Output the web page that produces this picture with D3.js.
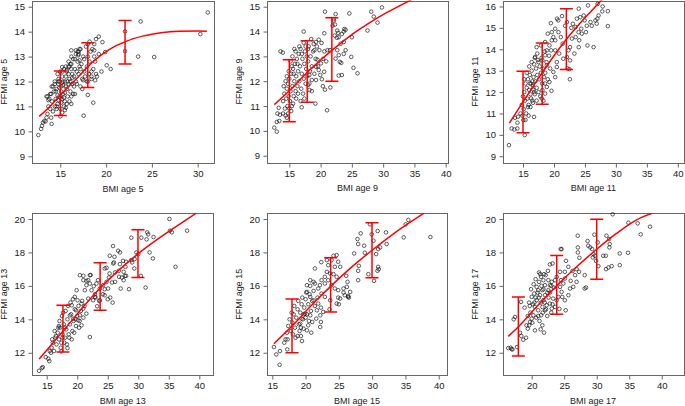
<!DOCTYPE html>
<html><head><meta charset="utf-8">
<script src="https://cdn.jsdelivr.net/npm/d3@7"></script>
<style>body{margin:0;background:#fff}svg{display:block;font-family:"Liberation Sans",Arial,Helvetica,sans-serif}</style>
</head><body><svg id="c" width="685" height="406"></svg>
<script>
// ---------------- DATA ----------------
const ages = [5, 9, 11, 13, 15, 17];
const xTickVals = [
  [15,20,25,30],
  [15,20,25,30,35,40],
  [15,20,25,30,35,40],
  [15,20,25,30,35,40],
  [15,20,25,30,35,40],
  [20,25,30,35,40]
];
const yTickVals = [
  [9,10,11,12,13,14,15],
  [9,10,11,12,13,14,15],
  [9,10,11,12,13,14,15,16],
  [12,14,16,18,20],
  [12,14,16,18,20],
  [12,14,16,18,20]
];

const pts5 = [[12.6,9.85],[12.9,10.1],[13.0,10.22],[13.1,10.35],[13.25,10.42],[13.4,10.4],[13.5,10.55],[14.05,10.3],[15.0,10.6],[15.2,10.75],[17.55,10.63],[18.6,11.15],[18.0,11.46],[19.0,12.2],[19.5,12.4],[20.5,12.5],[20.07,12.65],[19.9,13.18],[19.6,13.58],[19.2,13.8],[18.9,13.7],[18.7,13.5],[22.07,14.01],[22.07,13.22],[23.5,13.0],[23.77,14.41],[25.25,12.98],[30.29,13.9],[31.1,14.77],[16.2,13.25],[15.2,12.58],
[16.9,13.2],[17.2,13.3],[17.0,13.1],[18.7,13.25],[19.2,13.1],[18.0,13.5],[17.1,12.85],[17.5,12.05],[17.9,12.0],[18.4,12.2],[18.8,12.05],[16.2,11.4],[16.2,11.1],[15.5,10.85],[14.6,11.0],[13.7,11.25],[13.5,11.4],[13.9,11.5],[14.06,11.8],[14.4,11.9],[14.8,12.0],[15.25,12.4],[15.7,12.45],[15.9,12.6],[16.2,12.7],[16.6,12.9],[16.95,13.05],[16.7,13.25],
[13.6,10.7],[13.7,11.0],[13.8,11.3],[13.9,10.9],[14.0,11.5],[14.1,11.2],[14.2,10.8],[14.3,11.6],[14.4,11.0],[14.5,11.3],[13.6,11.4],[14.2,11.8],[14.4,12.0],[14.0,10.55],
[14.6,11.7],[14.7,11.1],[14.8,12.1],[14.9,11.4],[15.0,10.9],[15.1,11.8],[15.2,12.2],[15.3,11.5],[15.4,11.0],[15.5,12.0],[14.6,10.9],[14.8,11.9],[15.0,12.4],[15.2,11.3],[15.4,12.5],[14.7,12.3],[15.1,11.6],[15.3,12.0],[14.9,12.0],[15.5,11.2],
[15.6,11.8],[15.7,12.4],[15.8,11.4],[15.9,12.8],[16.0,12.1],[16.1,11.6],[16.2,12.5],[16.3,11.9],[16.4,12.9],[16.5,12.2],[15.6,12.6],[15.8,12.0],[16.0,11.2],[16.2,13.0],[16.4,11.5],[15.7,11.1],[15.9,12.3],[16.1,12.7],[16.3,12.3],[16.5,11.8],[15.6,12.2],[16.0,12.6],
[16.6,12.5],[16.7,13.1],[16.8,11.9],[16.9,12.8],[17.0,12.3],[17.1,13.3],[17.2,11.8],[17.3,12.7],[17.4,12.1],[17.5,13.0],[16.6,11.5],[16.8,12.4],[17.0,13.2],[17.2,12.5],[17.4,11.7],[16.7,12.0],[17.1,12.6],
[17.6,12.9],[17.7,12.2],[17.8,13.4],[17.9,12.6],[18.0,13.0],[18.1,12.3],[18.2,12.8],[18.3,13.2],[18.4,12.4],[18.5,13.3],[17.6,12.4],[18.0,12.0],[18.2,13.6],[18.4,12.1],
[18.6,12.5],[18.7,13.0],[18.8,12.8],[18.9,12.3],
[14.5,11.6],[14.7,11.45],[14.9,11.75],[15.1,11.15],[15.3,11.85],[15.5,11.55],[15.7,11.7],[15.9,11.9],[16.1,12.0],[16.3,12.15],[15.4,11.35],[15.6,10.95],[14.8,11.25],[15.2,11.95],[15.0,11.35]];

const pts9 = [[12.6,10.13],[13.0,9.97],[13.0,10.36],[13.4,10.4],[13.3,10.93],[13.1,10.7],[13.5,10.65],[14.0,10.7],[14.6,10.53],[14.4,10.62],[13.6,13.2],[13.96,13.15],[16.98,10.95],[19.17,11.1],[21.04,10.83],[20.7,11.66],[21.56,11.75],[20.36,11.8],[17.3,14.0],[20.7,14.8],[24.6,14.73],[22.3,14.28],[22.1,14.44],[27.5,14.04],[28.1,14.8],[28.5,14.6],[29.1,14.36],[29.8,14.97],[25.0,13.77],[24.9,12.98],[25.26,12.54],[25.9,12.32],[22.9,12.23],[23.4,12.25],[23.3,12.74],[24.0,13.25],[23.7,13.1],[24.0,14.07],[23.7,14.0],[22.6,13.75],[22.8,13.95],
[20.6,13.93],[19.7,13.67],[19.27,13.58],[20.15,13.54],[18.5,13.7],[18.9,13.5],[17.3,13.55],[17.6,13.4],[18.0,13.3],[19.0,13.25],[19.8,13.25],[20.6,13.2],[21.1,13.25],[21.5,13.25],[20.4,12.9],[20.9,12.8],[20.05,12.72],[19.5,12.87],[19.27,12.58],[19.7,12.45],[20.57,12.38],[19.95,12.25],[20.2,12.08],[19.27,12.05],[18.2,12.25],[18.6,12.05],[18.0,11.85],[18.23,11.65],[18.6,11.6],
[22.4,14.7],[22.1,14.5],[21.9,14.24],[22.66,14.04],[22.25,13.84],[22.9,13.77],[23.4,13.9],[23.7,13.58],[23.2,13.51],[22.66,13.25],[22.9,13.05],[22.4,12.91],[23.07,12.78],[23.8,14.1],
[14.0,11.2],[14.2,11.5],[14.3,10.9],[14.5,11.3],[14.6,11.7],[14.7,11.0],[14.8,11.9],[14.9,11.4],[15.0,12.1],[15.1,11.2],[15.2,11.6],[15.3,12.3],[15.4,11.0],[15.5,11.8],[15.6,12.5],[15.7,11.4],[15.8,12.0],[15.9,12.7],[16.0,11.6],[16.1,12.2],[16.2,12.9],[16.3,11.8],[16.4,12.4],[16.5,13.1],[16.6,12.0],[16.7,12.6],[16.8,13.3],[16.9,11.7],[17.0,12.3],[17.1,12.9],[17.2,11.5],[17.3,12.1],[17.4,12.7],[17.5,13.2],[17.6,11.9],[17.7,12.5],[17.8,13.0],[17.9,12.2],[18.0,12.8],[18.1,13.4],[18.3,12.4],[18.4,13.0],[18.6,12.6],[18.8,13.2],[19.0,12.3],[19.2,12.9],[19.4,13.4],[19.6,12.6],[14.4,12.0],[14.9,12.4],[15.2,12.8],[15.5,13.0],[15.8,13.3],[16.1,11.3],[16.4,11.5],[15.0,10.9],[15.3,10.8],[14.8,10.7],[15.6,11.1],[16.0,13.2],[16.6,13.4],[17.0,13.1],[16.3,12.7],[15.7,12.3],[15.4,12.6],[14.6,12.2],[14.1,11.8],[17.4,11.3],[18.2,11.9],[16.8,11.2]];

const pts11 = [[12.73,9.52],[13.16,10.3],[13.6,10.25],[14.08,10.3],[14.1,10.57],[13.7,10.8],[14.2,10.85],[15.27,9.99],[15.05,10.69],[16.78,10.84],[19.6,12.06],[22.57,12.6],[22.2,13.1],[22.5,13.07],[25.4,14.18],[26.4,14.1],[28.7,15.08],[28.7,15.78],[27.8,15.77],[27.86,16.0],[27.05,16.12],[25.5,16.05],[20.5,15.43],[21.3,15.55],[19.5,15.22],[24.0,15.9],
[22.8,15.0],[23.05,15.19],[22.1,15.27],[21.8,15.1],[23.7,15.43],[24.24,15.5],[24.8,15.58],[23.5,15.04],[24.95,15.35],[25.3,15.1],[25.9,15.27],[26.1,15.1],[26.7,15.35],[27.0,15.43],[27.2,15.58],[26.9,15.2],
[24.4,14.96],[23.97,14.8],[24.5,14.73],[25.16,14.8],[23.5,14.57],[22.9,14.5],[24.08,14.42],[22.6,14.1],[22.35,13.95],[24.0,14.1],[23.3,13.8],[22.1,13.64],[22.6,13.48],
[20.7,15.35],[20.2,14.96],[19.65,14.8],[19.9,14.57],[20.73,14.8],[21.1,14.57],[20.2,14.42],[21.4,14.26],[19.65,14.42],[19.27,14.18],[18.84,13.95],[19.54,13.95],[20.2,13.95],[20.84,13.8],[21.5,13.56],[20.46,13.4],[18.57,13.72],[18.13,13.48],[18.84,13.25],[19.38,13.1],[19.9,12.94],[20.46,13.17],[17.5,13.4],[16.95,13.64],[17.2,14.1],[17.9,14.18],[18.57,14.34],[19.0,14.73],[20.2,12.7],[19.27,12.47],[18.57,12.4],[18.84,12.24],[18.13,12.09],[18.03,11.7],[18.57,11.93],
[14.6,11.0],[14.8,11.4],[15.0,11.8],[15.1,11.2],[15.2,12.0],[15.3,11.6],[15.4,12.4],[15.5,11.0],[15.6,12.2],[15.7,11.7],[15.8,12.6],[15.9,11.4],[16.0,12.1],[16.1,12.8],[16.2,11.9],[16.3,12.4],[16.4,13.0],[16.5,11.6],[16.6,12.3],[16.7,12.7],[16.8,13.3],[16.9,11.9],[17.0,12.5],[17.1,13.1],[17.2,12.2],[17.3,12.8],[17.4,13.5],[17.5,12.0],[17.6,12.6],[17.7,13.2],[17.8,11.8],[17.9,12.9],[18.0,13.6],[18.1,12.4],[18.2,13.1],[18.3,11.6],[18.4,12.7],[18.5,13.9],[18.6,12.9],[18.8,13.4],[19.0,12.6],[19.2,13.7],[14.9,10.9],[15.4,10.7],[15.9,10.9],[16.2,11.3],[16.6,11.5],[15.2,12.6],[15.6,12.9],[16.0,13.2],[16.4,13.4],[16.9,13.6],[17.3,13.8],[15.8,11.3],[16.3,11.7],[16.8,12.0],[17.2,11.6],[16.5,12.5],[16.1,12.4],[16.7,12.1]];

const pts13 = [[13.75,10.92],[14.2,11.08],[14.35,11.14],[14.84,11.74],[15.27,11.64],[15.43,11.5],[15.7,12.0],[15.5,12.1],[17.39,12.08],[18.4,12.28],[22.07,12.94],[21.0,16.6],[21.5,16.3],[22.2,16.65],[25.33,17.8],[25.87,18.38],[26.7,18.1],[27.0,18.0],[28.48,15.8],[27.12,15.84],[28.86,18.88],[30.5,18.88],[31.47,19.2],[31.63,19.08],[31.36,18.78],[31.85,18.0],[32.4,17.64],[32.5,18.92],[31.2,15.9],[30.43,16.6],[35.1,20.0],[35.2,19.3],[35.5,19.2],[36.1,17.14],[38.0,19.3],[29.7,18.0],[30.0,17.9],[29.35,17.04],[29.4,17.6],[29.0,17.4],[27.5,17.5],[27.8,16.6],[28.0,16.6],[27.3,16.5],[25.2,16.5],[25.7,16.2],[26.2,16.8],[26.8,16.9],[27.0,17.3],[26.0,17.4],[23.0,15.3],[24.2,15.5],[25.0,15.2],[25.8,15.0],[25.4,15.3],[23.6,15.1],[24.5,15.8],
[24.5,17.04],[24.8,17.08],[25.3,16.74],[26.2,16.24],[26.85,16.54],[27.6,16.34],[27.6,16.84],[27.9,17.14],[28.0,17.44],[28.86,17.54],[25.9,17.34],[26.1,17.74],
[23.15,16.14],[23.4,16.34],[22.7,15.98],[22.34,15.74],[22.9,15.5],[23.7,15.84],[24.24,16.04],[24.8,16.24],[25.05,15.84],[24.5,15.44],[23.7,15.14],[23.26,14.78],[22.6,15.14],[22.9,15.34],
[21.8,15.24],[21.25,15.74],[21.5,16.04],[21.0,16.34],[20.43,16.64],[21.8,16.34],[22.07,16.14],[22.07,16.64],[19.9,15.74],[19.6,15.34],[20.05,15.14],[20.7,14.94],[21.0,14.64],[21.5,14.34],[20.43,14.24],[19.8,14.54],[19.1,14.84],[18.8,14.24],[19.35,14.04],[20.16,13.94],[20.7,13.64],
[15.8,12.3],[16.0,12.6],[16.2,12.1],[16.4,12.9],[16.6,12.5],[16.8,13.2],[17.0,12.8],[17.2,13.5],[17.4,12.6],[17.6,13.1],[17.8,13.7],[18.0,12.9],[18.2,13.4],[18.4,14.0],[18.6,13.1],[18.8,13.7],[19.0,14.3],[19.2,13.3],[19.4,13.9],[19.6,14.6],[19.8,13.6],[20.0,14.2],[20.2,14.8],[20.4,13.9],[20.6,14.5],[20.8,15.1],[21.0,14.1],[21.2,14.8],[16.5,13.0],[17.1,13.9],[17.5,14.2],[18.1,14.5],[18.5,14.8],[18.9,15.0],[19.3,15.2],[17.3,12.3],[17.9,12.6],[18.7,12.9],[19.5,13.2],[20.3,13.5],[16.9,13.5],[17.7,14.4],[18.3,12.5],[19.1,12.8],[15.9,12.8],[16.3,13.3],[17.0,13.6],[17.6,12.9],[18.0,13.5],[19.7,14.0]];

const pts15 = [[15.25,12.34],[15.6,11.9],[16.15,12.1],[16.1,11.28],[16.8,12.6],[17.3,12.8],[17.0,12.8],[17.25,12.2],[18.8,13.0],[19.3,13.5],[19.46,12.7],[20.86,13.2],[21.4,17.04],[22.36,17.42],[23.6,14.6],[24.67,17.84],[24.2,17.8],[25.0,14.9],[24.9,15.3],[26.1,16.6],[26.4,15.4],[26.5,15.3],[25.7,15.6],[27.3,17.94],[27.8,18.8],[28.28,19.14],[27.9,18.5],[28.8,18.4],[27.9,16.34],[27.9,16.9],[28.0,17.2],[28.9,17.98],[29.43,16.7],[29.68,19.68],[29.93,19.08],[30.2,18.7],[30.28,16.3],[30.9,17.14],[30.8,16.9],[31.0,17.0],[30.9,18.2],[30.6,17.9],[31.2,18.3],[30.83,19.28],[32.08,19.2],[32.18,18.5],[34.74,18.9],[35.04,19.68],[35.44,19.94],[38.75,18.92],
[23.9,17.54],[23.2,17.54],[24.9,17.44],[23.4,17.24],[24.4,17.14],[25.2,17.14],[23.2,16.84],[23.7,16.74],[24.2,16.7],[24.67,16.54],[22.9,16.54],[22.4,16.34],[23.4,16.34],[22.15,16.04],[22.9,16.14],[23.9,16.04],[24.4,15.84],[24.9,15.74],[25.7,15.84],[26.2,15.94],[26.3,16.24],[26.7,15.64],[26.4,15.34],[25.9,15.44],
[25.2,15.24],[24.67,14.94],[23.7,15.14],[22.9,15.34],[22.4,15.54],[21.9,15.84],[21.4,16.14],[21.2,16.24],[20.7,16.34],[20.2,16.04],[20.2,15.64],[20.7,15.34],[21.2,15.14],[21.9,14.94],[22.3,14.7],[22.65,14.44],[22.2,14.24],[21.6,14.04],[21.0,13.84],[20.7,14.24],[19.9,14.34],[19.4,14.04],[19.2,13.74],[19.7,13.44],[20.2,13.34],[20.4,13.64],[21.7,14.54],[22.3,13.84],[22.2,13.54],
[17.2,13.2],[17.4,13.6],[17.6,14.0],[17.8,13.3],[18.0,13.8],[18.2,14.3],[18.4,13.5],[18.6,14.1],[18.8,14.6],[19.0,13.7],[19.2,14.4],[19.4,14.9],[19.6,14.0],[19.8,14.7],[20.0,15.2],[20.2,14.3],[20.4,14.9],[20.6,15.5],[20.8,14.5],[21.0,15.1],[21.2,15.7],[18.1,13.1],[18.5,12.9],[19.1,13.3],[18.3,14.8],[18.9,15.1],[19.5,15.3],[20.1,15.6],[20.7,16.0],[17.9,14.4],[19.3,13.0],[20.5,13.9],[21.4,14.8],[21.8,15.3],[20.0,14.1],[19.7,14.3]];

const pts17 = [[16.4,12.28],[16.77,12.3],[17.03,12.2],[16.9,12.22],[17.74,12.34],[17.23,14.0],[17.44,14.14],[18.2,13.2],[18.4,13.0],[18.7,12.78],[19.13,12.9],[18.36,15.04],[18.9,14.7],[19.6,15.0],[20.5,13.34],[21.38,13.4],[21.64,13.64],[21.9,13.2],[22.4,14.2],[23.0,14.4],[21.13,16.8],[21.3,16.7],[22.8,17.28],[23.2,17.34],[24.46,18.2],[24.6,18.2],[25.23,14.54],[24.26,14.62],[25.28,17.5],[26.0,16.3],[26.3,16.9],[26.9,17.0],[27.33,17.68],[27.08,19.0],[27.1,18.3],[27.1,18.0],[28.15,15.84],[28.36,15.9],[28.15,16.64],[28.7,18.4],[29.0,18.3],[29.3,18.2],[28.6,18.68],[29.4,17.7],[29.7,17.8],[29.9,17.5],[29.5,17.9],[29.64,19.06],[30.15,18.6],[30.26,17.18],[31.5,19.0],[31.9,18.8],[32.0,18.5],[31.95,18.3],[31.0,17.8],[31.4,17.8],[31.43,17.0],[31.8,17.1],[32.3,17.18],[32.46,20.28],[33.54,17.94],[33.54,17.24],[34.82,17.98],[34.87,19.78],[36.3,19.74],[36.77,19.08],[38.2,19.54],
[20.0,14.04],[19.74,13.84],[19.6,13.64],[19.2,13.64],[19.4,13.44],[20.26,14.24],[20.5,14.74],[20.77,15.14],[20.0,15.34],[20.4,15.54],[21.0,15.74],[20.77,15.94],[21.13,16.24],[21.44,16.54],[21.8,16.34],[22.05,16.04],[21.64,15.74],[21.28,15.44],[21.8,15.14],[22.05,15.44],[22.56,15.74],[22.8,16.04],[23.08,16.24],[23.6,16.34],[22.56,16.34],[22.15,16.64],
[21.0,14.54],[21.44,14.24],[21.64,14.74],[22.05,14.54],[22.3,14.84],[22.8,14.94],[23.08,14.64],[23.6,14.74],[23.85,15.14],[23.3,15.24],[24.1,15.34],[24.6,15.64],[24.36,15.94],[24.87,16.14],[24.5,16.34],[25.1,16.44],[24.7,15.34],[25.1,15.14],[25.64,15.44],[25.9,15.84],[26.4,15.94],[26.9,16.24],[26.67,16.64],[27.28,16.84],[25.1,16.84],[25.64,17.14],[24.36,16.84],[23.85,16.54],
[19.8,14.4],[20.2,14.9],[20.6,15.3],[21.0,14.2],[21.4,15.0],[21.8,15.8],[22.2,14.6],[22.6,15.3],[23.0,16.0],[20.4,15.0],[20.9,15.6],[21.5,16.0],[22.0,15.0],[22.4,15.6],[20.1,13.8],[20.7,14.1],[21.2,13.9],[19.9,15.8],[20.3,16.1],[21.7,14.4],[22.8,15.6],[23.4,15.9],[23.2,14.9],[19.4,14.2],[19.7,14.8],[21.1,15.3],[21.9,16.7],[22.5,16.9],[20.6,16.4]];

// fitted curves
const fit5 = [[12.7,10.6],[14,11.05],[15,11.45],[16,11.83],[17,12.2],[18,12.6],[19,12.93],[20,13.2],[21,13.42],[22,13.58],[23,13.72],[24,13.82],[25,13.9],[26,13.96],[28,14.02],[30,14.03],[31,14.02]];
const fit9 = [[12.6,11.06],[15,11.62],[18,12.39],[20,12.85],[22,13.28],[25,13.88],[28,14.38],[30,14.68],[32,14.95],[34.5,15.28]];
const fit11 = [[12.8,10.55],[15,11.54],[18,12.86],[20,13.7],[22,14.47],[24,15.15],[26,15.78],[28,16.4]];
const fit13 = [[13.75,11.62],[15,12.15],[18,13.44],[21,14.75],[24,15.96],[27,17.0],[30,17.93],[33,18.75],[36,19.5],[39.5,20.35]];
const fit15 = [[15.25,12.54],[18,13.61],[21,14.88],[24,16.06],[27,17.15],[30,18.13],[33,19.05],[36,19.88],[38,20.4]];
const fit17 = [[16.4,12.98],[18,13.57],[21,14.85],[24,16.06],[27,17.17],[30,18.19],[33,19.12],[36,19.92],[38.6,20.35]];

// error bars: [x, low, high]
const err5 = [[15,10.64,12.42],[18,11.76,13.55],[22.07,12.7,14.45]];
const err9 = [[15,10.37,12.86],[17.86,11.15,13.63],[21.8,12.0,14.56]];
const err11 = [[15,10.1,12.97],[18.1,11.43,14.29],[22,13.05,15.89]];
const err13 = [[17.66,12.04,14.84],[23.75,14.54,17.38],[29.95,16.5,19.36]];
const err15 = [[17.96,12.0,15.22],[23.77,14.44,17.68],[29.98,16.48,19.78]];
const err17 = [[17.95,11.8,15.34],[23.85,14.3,17.82],[30.0,16.4,19.98]];

const allPts = [pts5, pts9, pts11, pts13, pts15, pts17];
const allFit = [fit5, fit9, fit11, fit13, fit15, fit17];
const allErr = [err5, err9, err11, err13, err15, err17];

// ---------------- LAYOUT ----------------
const boxes = [
  {x0:32,    x1:214,   y0:0.5,   y1:163,   xd:[11.91,31.78], yd:[8.73,15.25]},
  {x0:267.3, x1:447.7, y0:0.5,   y1:162.7, xd:[11.48,40.32], yd:[8.72,15.25]},
  {x0:502.7, x1:684,   y0:0.5,   y1:162.7, xd:[11.72,41.0],  yd:[8.70,16.28]},
  {x0:32.3,  x1:213.3, y0:213.3, y1:375,   xd:[12.64,42.29], yd:[10.67,20.34]},
  {x0:267.3, x1:446.7, y0:213.3, y1:375,   xd:[14.25,41.2],  yd:[10.67,20.34]},
  {x0:502.7, x1:683.5, y0:213.3, y1:375,   xd:[15.54,43.35], yd:[10.67,20.34]}
];

const svg = d3.select("#c");
const axisCol = "#666", textCol = "#222", red = "#ff0000";
const fmt = d3.format("d");

boxes.forEach((b, i) => {
  const x = d3.scaleLinear().domain(b.xd).range([b.x0, b.x1]);
  const y = d3.scaleLinear().domain(b.yd).range([b.y1, b.y0]);
  const g = svg.append("g");
  const cid = "clip" + i;
  svg.append("clipPath").attr("id", cid).append("rect")
    .attr("x", b.x0).attr("y", b.y0).attr("width", b.x1 - b.x0).attr("height", b.y1 - b.y0);

  // box
  g.append("rect").attr("x", Math.round(b.x0) + 0.5).attr("y", Math.round(b.y0) + 0.5)
    .attr("width", Math.round(b.x1) - Math.round(b.x0)).attr("height", Math.round(b.y1) - Math.round(b.y0))
    .attr("fill", "none").attr("stroke", axisCol).attr("stroke-width", 1);

  // x axis
  const xa = d3.axisBottom(x).tickValues(xTickVals[i]).tickFormat(fmt).tickSize(4).tickSizeOuter(0).tickPadding(3);
  const xg = g.append("g").attr("transform", `translate(0,${Math.round(b.y1) + 0.5})`).call(xa);
  xg.select(".domain").remove();
  xg.selectAll("line").attr("stroke", axisCol);
  xg.selectAll("text").attr("fill", textCol).style("font-size", "9.5px").attr("font-family", null);

  // y axis
  const ya = d3.axisLeft(y).tickValues(yTickVals[i]).tickFormat(fmt).tickSize(4).tickSizeOuter(0).tickPadding(3.5);
  const yg = g.append("g").attr("transform", `translate(${Math.round(b.x0) + 0.5},0)`).call(ya);
  yg.select(".domain").remove();
  yg.selectAll("line").attr("stroke", axisCol);
  yg.selectAll("text").attr("fill", textCol).style("font-size", "9.5px").attr("font-family", null);

  // titles
  g.append("text").attr("x", (b.x0 + b.x1) / 2).attr("y", b.y1 + 28.5)
    .attr("text-anchor", "middle").attr("fill", textCol).style("font-size", "9px")
    .text("BMI age " + ages[i]);
  g.append("text").attr("transform", `translate(${b.x0 - 25},${(b.y0 + b.y1) / 2}) rotate(-90)`)
    .attr("text-anchor", "middle").attr("fill", textCol).style("font-size", "9px")
    .text("FFMI age " + ages[i]);

  // points
  g.append("g").selectAll("circle").data(allPts[i]).join("circle")
    .attr("cx", d => x(d[0])).attr("cy", d => y(d[1])).attr("r", 1.8)
    .attr("fill", "none").attr("stroke", "#1a1a1a").attr("stroke-width", 0.7);

  // fitted curve
  const line = d3.line().x(d => x(d[0])).y(d => y(d[1])).curve(d3.curveMonotoneX);
  g.append("path").datum(allFit[i]).attr("d", line).attr("clip-path", `url(#${cid})`)
    .attr("fill", "none").attr("stroke", red).attr("stroke-width", 1.5);

  // error bars
  const eb = g.append("g").attr("stroke", red).attr("stroke-width", 1.5).attr("clip-path", `url(#${cid})`);
  allErr[i].forEach(e => {
    const cx = x(e[0]);
    eb.append("line").attr("x1", cx).attr("x2", cx).attr("y1", y(e[1])).attr("y2", y(e[2]));
    eb.append("line").attr("x1", cx - 6.5).attr("x2", cx + 6.5).attr("y1", y(e[1])).attr("y2", y(e[1]));
    eb.append("line").attr("x1", cx - 6.5).attr("x2", cx + 6.5).attr("y1", y(e[2])).attr("y2", y(e[2]));
  });
});
</script>
</body></html>
